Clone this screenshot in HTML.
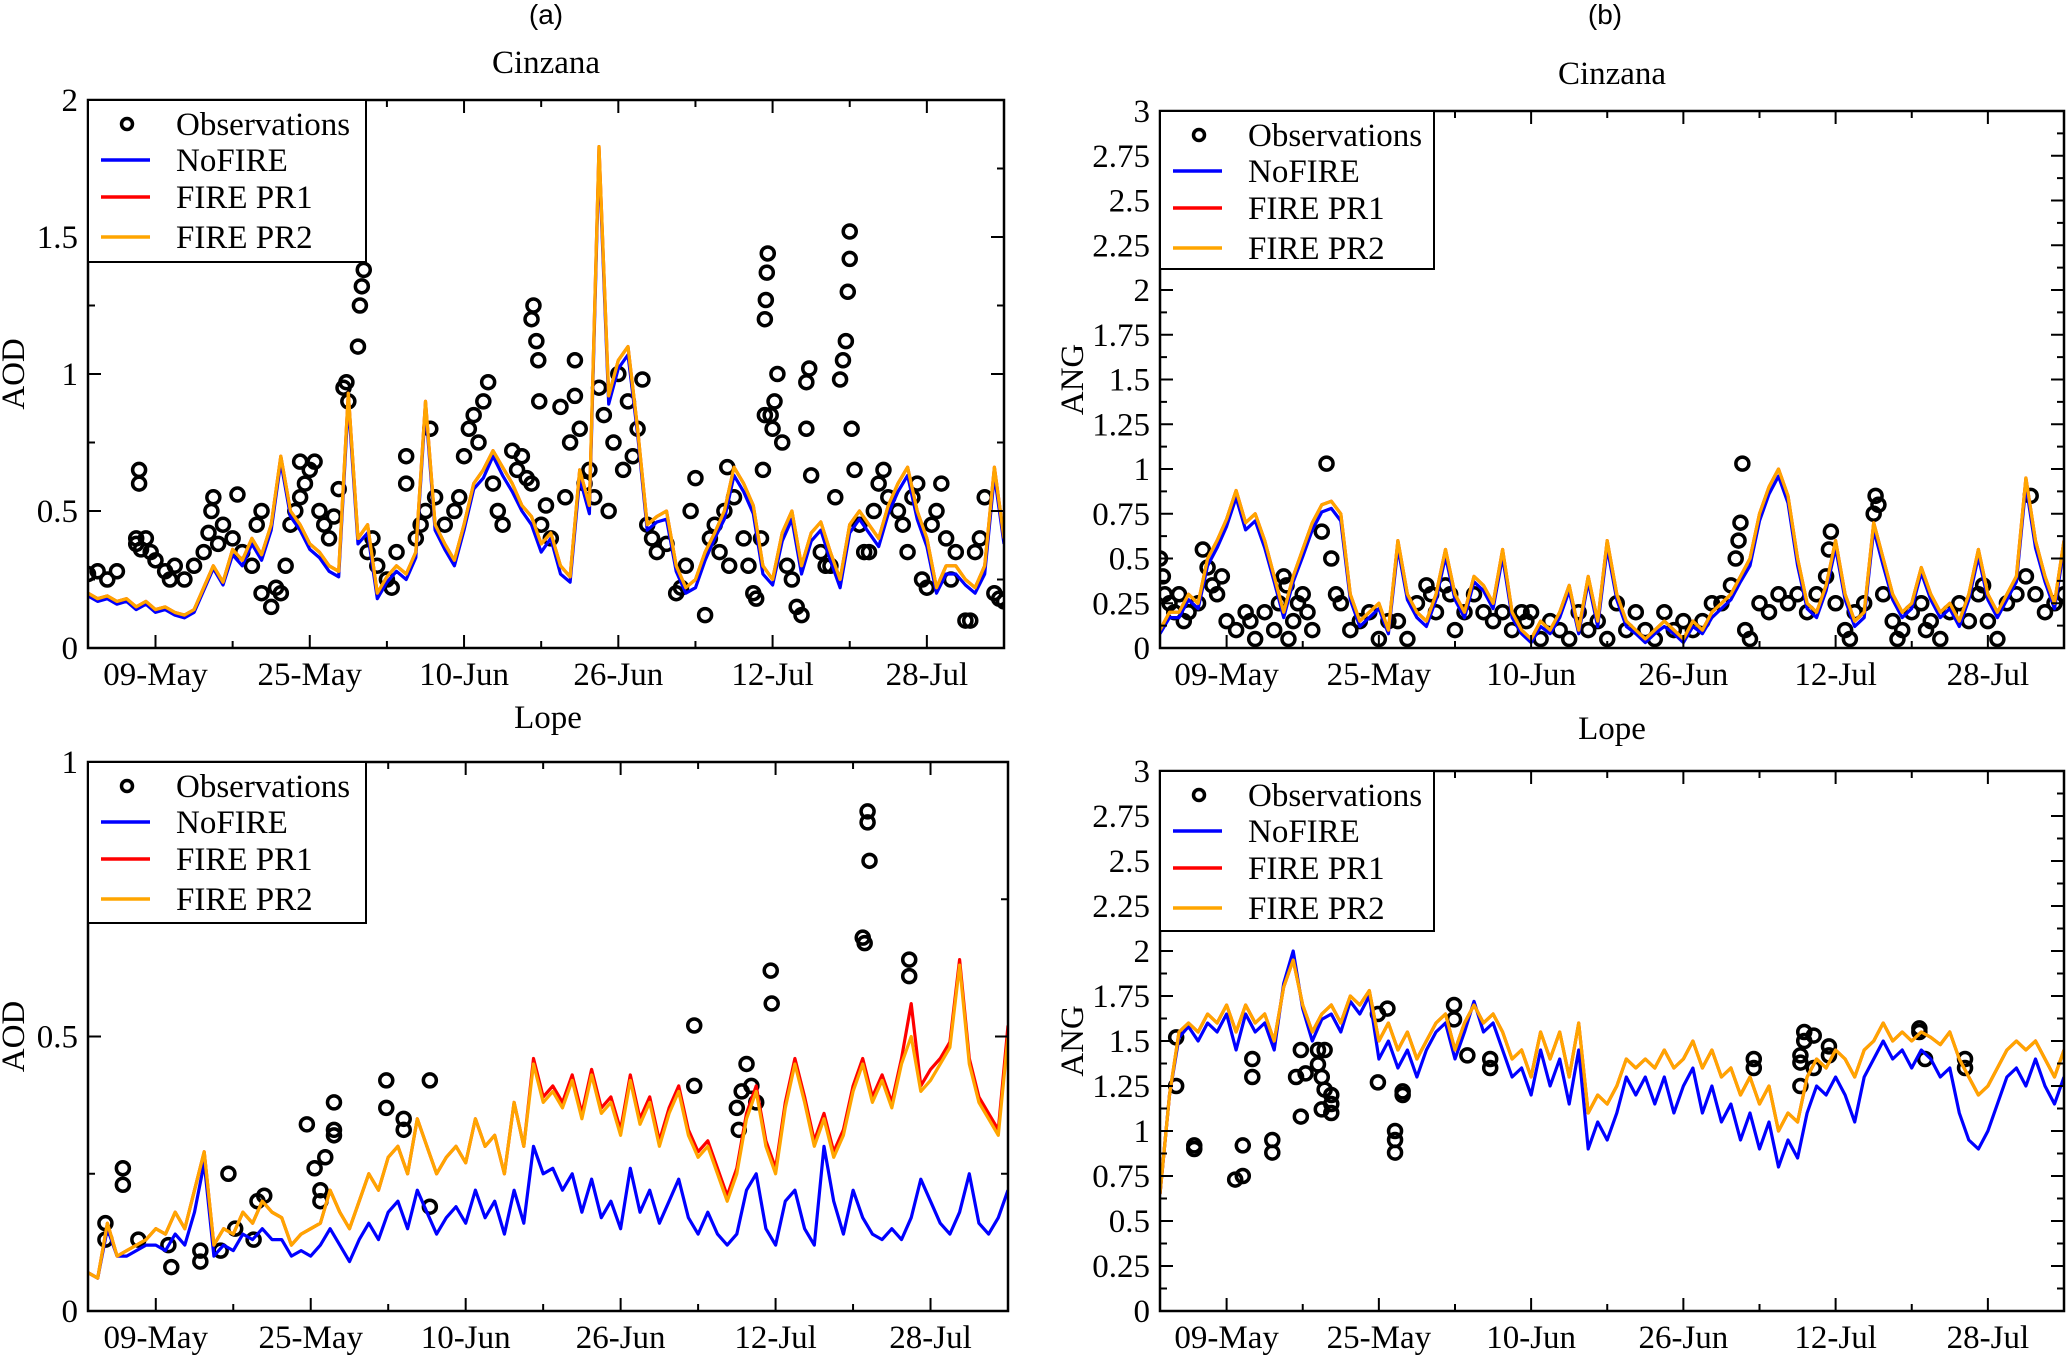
<!DOCTYPE html>
<html><head><meta charset="utf-8"><style>
html,body{margin:0;padding:0;background:#fff;}
svg{display:block;font-family:"Liberation Serif",serif;}
</style></head><body>
<svg id="fig" width="2067" height="1355" viewBox="0 0 2067 1355" xmlns="http://www.w3.org/2000/svg">
<text x="546" y="24" font-family="Liberation Sans, sans-serif" font-size="28" text-anchor="middle">(a)</text>
<text x="1605" y="24" font-family="Liberation Sans, sans-serif" font-size="28" text-anchor="middle">(b)</text>
</svg>
<script>
// x domain: day 0 = 02-May ... day 95 = 05-Aug
const dayCats = ["09-May","25-May","10-Jun","26-Jun","12-Jul","28-Jul"];
const dayCatPos = [7,23,39,55,71,87];

const aodC_noFire = [0.19,0.17,0.18,0.16,0.17,0.14,0.16,0.13,0.14,0.12,0.11,0.13,0.21,0.29,0.23,0.34,0.30,0.38,0.32,0.43,0.68,0.48,0.43,0.36,0.33,0.28,0.26,0.90,0.38,0.42,0.18,0.24,0.28,0.25,0.33,0.88,0.43,0.36,0.30,0.43,0.58,0.62,0.70,0.63,0.57,0.50,0.45,0.35,0.40,0.27,0.24,0.62,0.49,1.80,0.89,1.02,1.07,0.78,0.43,0.46,0.47,0.28,0.20,0.22,0.32,0.40,0.47,0.63,0.57,0.49,0.27,0.23,0.39,0.47,0.27,0.39,0.43,0.32,0.22,0.42,0.47,0.42,0.37,0.49,0.57,0.63,0.47,0.37,0.20,0.27,0.27,0.23,0.20,0.27,0.63,0.38];
const aodC_pr1 = [0.20,0.18,0.19,0.17,0.18,0.15,0.17,0.14,0.15,0.13,0.12,0.14,0.22,0.30,0.24,0.36,0.32,0.40,0.34,0.45,0.70,0.50,0.45,0.38,0.35,0.30,0.28,0.93,0.40,0.45,0.20,0.26,0.30,0.27,0.35,0.90,0.45,0.38,0.32,0.45,0.60,0.65,0.72,0.66,0.60,0.52,0.48,0.38,0.42,0.30,0.26,0.65,0.52,1.83,0.92,1.05,1.10,0.80,0.45,0.48,0.50,0.30,0.22,0.25,0.35,0.42,0.50,0.66,0.60,0.52,0.30,0.25,0.42,0.50,0.30,0.42,0.46,0.35,0.25,0.45,0.50,0.45,0.40,0.52,0.60,0.66,0.50,0.40,0.22,0.30,0.30,0.25,0.22,0.30,0.66,0.40];
const aodC_pr2 = [0.20,0.18,0.19,0.17,0.18,0.15,0.17,0.14,0.15,0.13,0.12,0.14,0.22,0.30,0.24,0.36,0.32,0.40,0.34,0.45,0.70,0.50,0.45,0.38,0.35,0.30,0.28,0.93,0.40,0.45,0.20,0.26,0.30,0.27,0.35,0.90,0.45,0.38,0.32,0.45,0.60,0.65,0.72,0.66,0.60,0.52,0.48,0.38,0.42,0.30,0.26,0.65,0.52,1.83,0.92,1.05,1.10,0.80,0.45,0.48,0.50,0.30,0.22,0.25,0.35,0.42,0.50,0.66,0.60,0.52,0.30,0.25,0.42,0.50,0.30,0.42,0.46,0.35,0.25,0.45,0.50,0.45,0.40,0.52,0.60,0.66,0.50,0.40,0.22,0.30,0.30,0.25,0.22,0.30,0.66,0.40];
const aodC_obsDay = [0,1,2,3,5,5.5,6,6.5,7,5,5.3,5.3,8,8.5,9,10,11,12,12.5,12.8,13,13.5,14,15,15.5,16,17,17.5,18,18,19,19.5,20,20.5,21,21.5,22,22,22.5,23,23.5,24,24.5,25,25.5,26,26.5,26.8,27,28,28.2,28.4,28.6,29,29.5,30,31,31.5,32,33,33,34,34.5,35,35.5,36,37,38,38.5,39,39.5,40,40.5,41,41.5,42,42.5,43,44,44.5,45,45.5,46,46,46.2,46.5,46.7,46.8,47,47.5,48,49,49.5,50,50.5,50.5,51,51.5,52,52.5,53,53.5,54,54.5,55,55.5,56,56.5,57,57.5,58,58.5,59,60,61,61.5,62,62.5,63,64,64.5,65,65.5,66,66.3,66.5,67,68,68.5,69,69.3,69.8,70,70.2,70.2,70.3,70.4,70.5,70.8,71,71.2,71.5,72,72.5,73,73.5,74,74.5,74.5,74.8,75,76,76.5,77,77.5,78,78.3,78.6,78.8,79,79,79.2,79.5,80,80.5,81,81.5,82,82.5,83,84,84.5,85,85.5,86,86.5,87,87.5,88,88.5,89,89.5,90,91,91.5,92,92.5,93,94,94.5,95];
const aodC_obsVal = [0.27,0.28,0.25,0.28,0.38,0.36,0.4,0.35,0.32,0.4,0.6,0.65,0.28,0.25,0.3,0.25,0.3,0.35,0.42,0.5,0.55,0.38,0.45,0.4,0.56,0.35,0.3,0.45,0.5,0.2,0.15,0.22,0.2,0.3,0.45,0.5,0.55,0.68,0.6,0.65,0.68,0.5,0.45,0.4,0.48,0.58,0.95,0.97,0.9,1.1,1.25,1.32,1.38,0.35,0.4,0.3,0.25,0.22,0.35,0.6,0.7,0.4,0.45,0.5,0.8,0.55,0.45,0.5,0.55,0.7,0.8,0.85,0.75,0.9,0.97,0.6,0.5,0.45,0.72,0.65,0.7,0.62,0.6,1.2,1.25,1.12,1.05,0.9,0.45,0.52,0.4,0.88,0.55,0.75,1.05,0.92,0.8,0.6,0.65,0.55,0.95,0.85,0.5,0.75,1.0,0.65,0.9,0.7,0.8,0.98,0.45,0.4,0.35,0.38,0.2,0.22,0.3,0.5,0.62,0.12,0.4,0.45,0.35,0.5,0.66,0.3,0.55,0.4,0.3,0.2,0.18,0.4,0.65,0.85,1.2,1.27,1.37,1.44,0.85,0.8,0.9,1.0,0.75,0.3,0.25,0.15,0.12,0.8,0.97,1.02,0.63,0.35,0.3,0.3,0.55,0.98,1.05,1.12,1.3,1.42,1.52,0.8,0.65,0.45,0.35,0.35,0.5,0.6,0.65,0.55,0.5,0.45,0.35,0.55,0.6,0.25,0.22,0.45,0.5,0.6,0.4,0.25,0.35,0.1,0.1,0.35,0.4,0.55,0.2,0.18,0.17];

const angC_noFire = [0.08,0.17,0.17,0.27,0.22,0.46,0.56,0.68,0.84,0.66,0.71,0.56,0.37,0.17,0.37,0.51,0.66,0.76,0.78,0.71,0.27,0.12,0.17,0.22,0.08,0.56,0.27,0.17,0.12,0.27,0.51,0.27,0.17,0.37,0.32,0.22,0.51,0.17,0.08,0.03,0.12,0.08,0.17,0.32,0.08,0.37,0.12,0.56,0.27,0.12,0.08,0.03,0.08,0.12,0.08,0.03,0.12,0.08,0.17,0.22,0.27,0.37,0.46,0.71,0.86,0.96,0.81,0.46,0.22,0.17,0.32,0.56,0.27,0.12,0.17,0.66,0.46,0.27,0.17,0.22,0.42,0.27,0.17,0.22,0.12,0.27,0.51,0.27,0.17,0.27,0.37,0.91,0.56,0.37,0.22,0.56];
const angC_pr1 = [0.10,0.20,0.20,0.30,0.25,0.50,0.60,0.72,0.88,0.70,0.75,0.60,0.40,0.20,0.40,0.55,0.70,0.80,0.82,0.75,0.30,0.15,0.20,0.25,0.10,0.60,0.30,0.20,0.15,0.30,0.55,0.30,0.20,0.40,0.35,0.25,0.55,0.20,0.10,0.05,0.15,0.10,0.20,0.35,0.10,0.40,0.15,0.60,0.30,0.15,0.10,0.05,0.10,0.15,0.10,0.05,0.15,0.10,0.20,0.25,0.30,0.40,0.50,0.75,0.90,1.00,0.85,0.50,0.25,0.20,0.35,0.60,0.30,0.15,0.20,0.70,0.50,0.30,0.20,0.25,0.45,0.30,0.20,0.25,0.15,0.30,0.55,0.30,0.20,0.30,0.40,0.95,0.60,0.40,0.25,0.60];
const angC_pr2 = [0.10,0.20,0.20,0.30,0.25,0.50,0.60,0.72,0.88,0.70,0.75,0.60,0.40,0.20,0.40,0.55,0.70,0.80,0.82,0.75,0.30,0.15,0.20,0.25,0.10,0.60,0.30,0.20,0.15,0.30,0.55,0.30,0.20,0.40,0.35,0.25,0.55,0.20,0.10,0.05,0.15,0.10,0.20,0.35,0.10,0.40,0.15,0.60,0.30,0.15,0.10,0.05,0.10,0.15,0.10,0.05,0.15,0.10,0.20,0.25,0.30,0.40,0.50,0.75,0.90,1.00,0.85,0.50,0.25,0.20,0.35,0.60,0.30,0.15,0.20,0.70,0.50,0.30,0.20,0.25,0.45,0.30,0.20,0.25,0.15,0.30,0.55,0.30,0.20,0.30,0.40,0.95,0.60,0.40,0.25,0.60];
const angC_obsDay = [0,0.3,0.5,1,1.5,2,2.5,3,4,4.5,5,5.5,6,6.5,7,8,9,9.5,10,11,12,12.5,13,13.3,13.5,14,14.5,15,15.5,16,17,17.5,18,18.5,19,20,21,22,23,24,25,26,27,28,28.5,29,30,30.5,31,32,33,34,35,36,37,38,38.5,39,40,41,42,43,44,45,46,47,48,49,50,51,52,53,54,55,56,57,58,59,60,60.5,60.8,61,61.2,61.5,62,63,64,65,66,67,68,69,70,70.3,70.5,71,72,72.5,73,74,75,75.2,75.5,76,77,77.5,78,79,80,80.5,81,82,83,84,85,86,86.5,87,88,89,90,91,91.5,92,93,94,95];
const angC_obsVal = [0.5,0.4,0.3,0.25,0.2,0.3,0.15,0.2,0.25,0.55,0.45,0.35,0.3,0.4,0.15,0.1,0.2,0.15,0.05,0.2,0.1,0.25,0.4,0.35,0.05,0.15,0.25,0.3,0.2,0.1,0.65,1.03,0.5,0.3,0.25,0.1,0.15,0.2,0.05,0.15,0.15,0.05,0.25,0.35,0.3,0.2,0.35,0.3,0.1,0.2,0.3,0.2,0.15,0.2,0.1,0.2,0.15,0.2,0.05,0.15,0.1,0.05,0.2,0.1,0.15,0.05,0.25,0.1,0.2,0.1,0.05,0.2,0.1,0.15,0.1,0.15,0.25,0.25,0.35,0.5,0.6,0.7,1.03,0.1,0.05,0.25,0.2,0.3,0.25,0.3,0.2,0.3,0.4,0.55,0.65,0.25,0.1,0.05,0.2,0.25,0.75,0.85,0.8,0.3,0.15,0.05,0.1,0.2,0.25,0.1,0.15,0.05,0.2,0.25,0.15,0.3,0.35,0.15,0.05,0.25,0.3,0.4,0.85,0.3,0.2,0.25,0.3];

const aodL_noFire = [0.07,0.06,0.15,0.10,0.10,0.11,0.12,0.12,0.11,0.14,0.12,0.18,0.27,0.10,0.12,0.11,0.14,0.13,0.15,0.13,0.13,0.10,0.11,0.10,0.12,0.15,0.12,0.09,0.13,0.16,0.13,0.18,0.20,0.15,0.22,0.18,0.14,0.17,0.19,0.16,0.22,0.17,0.20,0.14,0.22,0.16,0.30,0.25,0.26,0.22,0.25,0.18,0.24,0.17,0.20,0.15,0.26,0.18,0.22,0.16,0.20,0.24,0.17,0.14,0.18,0.14,0.12,0.14,0.22,0.25,0.15,0.12,0.20,0.22,0.15,0.12,0.30,0.20,0.14,0.22,0.17,0.14,0.13,0.15,0.13,0.17,0.24,0.20,0.16,0.14,0.18,0.25,0.16,0.14,0.17,0.22];
const aodL_pr1 = [0.07,0.06,0.16,0.10,0.11,0.12,0.13,0.15,0.14,0.18,0.15,0.22,0.29,0.12,0.15,0.14,0.18,0.16,0.20,0.18,0.17,0.12,0.14,0.15,0.16,0.22,0.18,0.15,0.20,0.25,0.22,0.28,0.30,0.25,0.35,0.30,0.25,0.28,0.30,0.27,0.35,0.30,0.32,0.25,0.38,0.30,0.46,0.39,0.41,0.38,0.43,0.36,0.44,0.37,0.39,0.33,0.43,0.35,0.39,0.31,0.37,0.41,0.33,0.29,0.31,0.26,0.21,0.26,0.36,0.41,0.31,0.26,0.38,0.46,0.39,0.31,0.36,0.29,0.33,0.41,0.46,0.39,0.43,0.38,0.46,0.56,0.41,0.44,0.46,0.49,0.64,0.46,0.39,0.36,0.33,0.52];
const aodL_pr2 = [0.07,0.06,0.16,0.10,0.11,0.12,0.13,0.15,0.14,0.18,0.15,0.22,0.29,0.12,0.15,0.14,0.18,0.16,0.20,0.18,0.17,0.12,0.14,0.15,0.16,0.22,0.18,0.15,0.20,0.25,0.22,0.28,0.30,0.25,0.35,0.30,0.25,0.28,0.30,0.27,0.35,0.30,0.32,0.25,0.38,0.30,0.45,0.38,0.40,0.37,0.42,0.35,0.43,0.36,0.38,0.32,0.42,0.34,0.38,0.30,0.36,0.40,0.32,0.28,0.30,0.25,0.20,0.25,0.35,0.40,0.30,0.25,0.37,0.45,0.38,0.30,0.35,0.28,0.32,0.40,0.45,0.38,0.42,0.37,0.45,0.50,0.40,0.42,0.45,0.48,0.63,0.45,0.38,0.35,0.32,0.50];
const aodL_obsDay = [1.8,1.8,3.6,3.6,5.2,8.6,8.3,11.6,11.6,13.7,14.5,15.2,17.5,18.2,17.1,22.6,23.4,24,24,24.5,25.4,25.4,25.4,30.8,30.8,32.6,32.6,35.3,35.3,62.6,62.6,67,67.2,67.5,68,68.5,69,70.5,70.6,80,80.2,80.5,80.5,80.7,84.8,84.8];
const aodL_obsVal = [0.16,0.13,0.26,0.23,0.13,0.08,0.12,0.11,0.09,0.11,0.25,0.15,0.2,0.21,0.13,0.34,0.26,0.22,0.2,0.28,0.38,0.33,0.32,0.42,0.37,0.35,0.33,0.42,0.19,0.52,0.41,0.37,0.33,0.4,0.45,0.41,0.38,0.62,0.56,0.68,0.67,0.91,0.89,0.82,0.64,0.61];

const angL_noFire = [0.65,1.2,1.52,1.58,1.5,1.6,1.55,1.65,1.45,1.65,1.55,1.6,1.45,1.82,2.0,1.68,1.5,1.62,1.65,1.55,1.72,1.65,1.75,1.4,1.5,1.35,1.45,1.3,1.45,1.55,1.6,1.4,1.55,1.72,1.55,1.6,1.45,1.3,1.35,1.2,1.45,1.25,1.4,1.15,1.45,0.9,1.05,0.95,1.1,1.3,1.2,1.3,1.15,1.3,1.1,1.25,1.35,1.1,1.25,1.05,1.15,0.95,1.1,0.9,1.05,0.8,0.95,0.85,1.1,1.25,1.2,1.3,1.2,1.05,1.3,1.4,1.5,1.4,1.45,1.35,1.45,1.4,1.3,1.35,1.1,0.95,0.9,1.0,1.15,1.3,1.35,1.25,1.4,1.25,1.15,1.3];
const angL_pr1 = [0.65,1.2,1.55,1.6,1.55,1.65,1.6,1.7,1.55,1.7,1.6,1.65,1.5,1.8,1.95,1.7,1.55,1.65,1.7,1.6,1.75,1.7,1.78,1.5,1.6,1.45,1.55,1.4,1.5,1.6,1.65,1.45,1.6,1.7,1.6,1.65,1.55,1.4,1.45,1.3,1.55,1.4,1.55,1.3,1.6,1.1,1.2,1.15,1.25,1.4,1.35,1.4,1.35,1.45,1.35,1.4,1.5,1.35,1.45,1.3,1.35,1.2,1.3,1.15,1.25,1.0,1.1,1.05,1.3,1.4,1.35,1.45,1.4,1.3,1.45,1.5,1.6,1.5,1.55,1.5,1.55,1.52,1.48,1.55,1.4,1.3,1.2,1.25,1.35,1.45,1.5,1.45,1.5,1.4,1.3,1.45];
const angL_pr2 = [0.65,1.2,1.55,1.6,1.55,1.65,1.6,1.7,1.55,1.7,1.6,1.65,1.5,1.8,1.95,1.7,1.55,1.65,1.7,1.6,1.75,1.7,1.78,1.5,1.6,1.45,1.55,1.4,1.5,1.6,1.65,1.45,1.6,1.7,1.6,1.65,1.55,1.4,1.45,1.3,1.55,1.4,1.55,1.3,1.6,1.1,1.2,1.15,1.25,1.4,1.35,1.4,1.35,1.45,1.35,1.4,1.5,1.35,1.45,1.3,1.35,1.2,1.3,1.15,1.25,1.0,1.1,1.05,1.3,1.4,1.35,1.45,1.4,1.3,1.45,1.5,1.6,1.5,1.55,1.5,1.55,1.52,1.48,1.55,1.4,1.3,1.2,1.25,1.35,1.45,1.5,1.45,1.5,1.4,1.3,1.45];
const angL_obsDay = [1.7,1.7,3.6,3.6,7.9,8.7,8.7,9.7,9.7,11.8,11.8,14.3,14.8,14.8,15.3,16.6,16.6,17,17,17.3,17.3,18,18,18,22.9,22.9,23.9,24.7,24.7,24.7,25.5,25.5,30.9,30.9,32.3,34.7,34.7,62.4,62.4,67.3,67.3,67.3,67.7,67.7,68.7,68.7,70.3,70.3,79.8,79.8,80.4,84.6,84.6];
const angL_obsVal = [1.25,1.52,0.92,0.9,0.73,0.75,0.92,1.4,1.3,0.95,0.88,1.3,1.45,1.08,1.32,1.45,1.37,1.12,1.3,1.45,1.23,1.2,1.15,1.1,1.65,1.27,1.68,1.0,0.95,0.88,1.22,1.2,1.7,1.62,1.42,1.35,1.4,1.4,1.35,1.42,1.38,1.25,1.55,1.5,1.53,1.35,1.47,1.42,1.57,1.55,1.4,1.4,1.35];

const svg = document.getElementById('fig');
const NS = 'http://www.w3.org/2000/svg';
const FS = 33;
function mk(tag, attrs, parent){const e=document.createElementNS(NS,tag);for(const k in attrs)e.setAttribute(k,attrs[k]);(parent||svg).appendChild(e);return e;}

function panel(cfg){
  const g = mk('g',{});
  
  
  const X = d => cfg.x0 + (d - 0) / 95 * (cfg.x1 - cfg.x0);
  const Y = v => cfg.y1 - v / cfg.ymax * (cfg.y1 - cfg.y0);
  const t = mk('text',{x:(cfg.x0+cfg.x1)/2,y:cfg.titleY,'font-size':FS,'text-anchor':'middle'},g);
  t.textContent = cfg.title;
  
  
  const yt = mk('text',{x:cfg.ytX,y:(cfg.y0+cfg.y1)/2,'font-size':FS,'text-anchor':'middle',transform:`rotate(-90 ${cfg.ytX} ${(cfg.y0+cfg.y1)/2})`},g);
  yt.textContent = cfg.ytitle;
  
  
  const cid = 'c'+cfg.name;
  const cp = mk('clipPath',{id:cid},g); mk('rect',{x:cfg.x0,y:cfg.y0,width:cfg.x1-cfg.x0,height:cfg.y1-cfg.y0},cp);
  const plot = mk('g',{'clip-path':`url(#${cid})`},g);
  cfg.obsDay.forEach((d,i)=>{
    const c = mk('circle',{cx:X(d),cy:Y(cfg.obsVal[i]),r:6.5,fill:'none',stroke:'#000','stroke-width':3.5},plot);
    
    
  });
  [[cfg.noFire,'#0000ff','nofire-line'],[cfg.pr1,'#ff0000','fire-pr1-line'],[cfg.pr2,'#ffa500','fire-pr2-line']].forEach(([arr,col,nm])=>{
    const p = mk('polyline',{points:arr.map((v,i)=>X(i).toFixed(1)+','+Y(v).toFixed(1)).join(' '),fill:'none',stroke:col,'stroke-width':3.2,'stroke-linejoin':'round'},plot);
    
    
  });
  const fr = mk('rect',{x:cfg.x0,y:cfg.y0,width:cfg.x1-cfg.x0,height:cfg.y1-cfg.y0,fill:'none',stroke:'#000','stroke-width':2.5},g);
  
  
  for(let v=0; v<=cfg.ymax+1e-9; v+=cfg.yminor){
    const major = Math.abs(v/cfg.ymajor - Math.round(v/cfg.ymajor))<1e-6;
    const L = major?13:7, y=Y(v);
    mk('line',{x1:cfg.x0,x2:cfg.x0+L,y1:y,y2:y,stroke:'#000','stroke-width':2},g);
    mk('line',{x1:cfg.x1,x2:cfg.x1-L,y1:y,y2:y,stroke:'#000','stroke-width':2},g);
    if(major){
      const lt = mk('text',{x:cfg.x0-10,y:y+11,'font-size':FS,'text-anchor':'end'},g);
      lt.textContent = String(+v.toFixed(2));
      
      
    }
  }
  for(let d=-1; d<=95; d+=8){
    const major = dayCatPos.includes(d);
    const L = major?13:7, x=X(d);
    if(x<cfg.x0) continue;
    mk('line',{x1:x,x2:x,y1:cfg.y1,y2:cfg.y1-L,stroke:'#000','stroke-width':2},g);
    mk('line',{x1:x,x2:x,y1:cfg.y0,y2:cfg.y0+L,stroke:'#000','stroke-width':2},g);
  }
  dayCats.forEach((lab,i)=>{
    const xt = mk('text',{x:X(dayCatPos[i]),y:cfg.y1+37,'font-size':FS,'text-anchor':'middle'},g);
    xt.textContent = lab;
    
    
  });
  const lg = mk('g',{},g);
  
  
  mk('rect',{x:cfg.x0,y:cfg.y0,width:cfg.legW,height:cfg.legH,fill:'#fff',stroke:'#000','stroke-width':2},lg);
  const rows = [['Observations',null],['NoFIRE','#0000ff'],['FIRE PR1','#ff0000'],['FIRE PR2','#ffa500']];
  const rowY = [24,60,97,137];
  rows.forEach(([lab,col],i)=>{
    const yy = cfg.y0 + rowY[i];
    if(col) mk('line',{x1:cfg.x0+13,x2:cfg.x0+62,y1:yy,y2:yy,stroke:col,'stroke-width':3.5},lg);
    else mk('circle',{cx:cfg.x0+39,cy:yy,r:5.5,fill:'none',stroke:'#000','stroke-width':3.5},lg);
    const tx = mk('text',{x:cfg.x0+88,y:yy+11,'font-size':FS},lg);
    tx.textContent = lab;
    
    
  });
}

panel({name:'cinzana-aod',title:'Cinzana',titleY:73,ytitle:'AOD',ytX:24,x0:88,x1:1004,y0:100,y1:648,ymax:2,ymajor:0.5,yminor:0.25,legW:278,legH:162,noFire:aodC_noFire,pr1:aodC_pr1,pr2:aodC_pr2,obsDay:aodC_obsDay,obsVal:aodC_obsVal});
panel({name:'lope-aod',title:'Lope',titleY:728,ytitle:'AOD',ytX:24,x0:88,x1:1008,y0:762,y1:1311,ymax:1,ymajor:0.5,yminor:0.25,legW:278,legH:161,noFire:aodL_noFire,pr1:aodL_pr1,pr2:aodL_pr2,obsDay:aodL_obsDay,obsVal:aodL_obsVal});
panel({name:'cinzana-ang',title:'Cinzana',titleY:84,ytitle:'ANG',ytX:1083,x0:1160,x1:2064,y0:111,y1:648,ymax:3,ymajor:0.25,yminor:0.125,legW:274,legH:158,noFire:angC_noFire,pr1:angC_pr1,pr2:angC_pr2,obsDay:angC_obsDay,obsVal:angC_obsVal});
panel({name:'lope-ang',title:'Lope',titleY:739,ytitle:'ANG',ytX:1083,x0:1160,x1:2064,y0:771,y1:1311,ymax:3,ymajor:0.25,yminor:0.125,legW:274,legH:160,noFire:angL_noFire,pr1:angL_pr1,pr2:angL_pr2,obsDay:angL_obsDay,obsVal:angL_obsVal});
</script>
</body></html>
